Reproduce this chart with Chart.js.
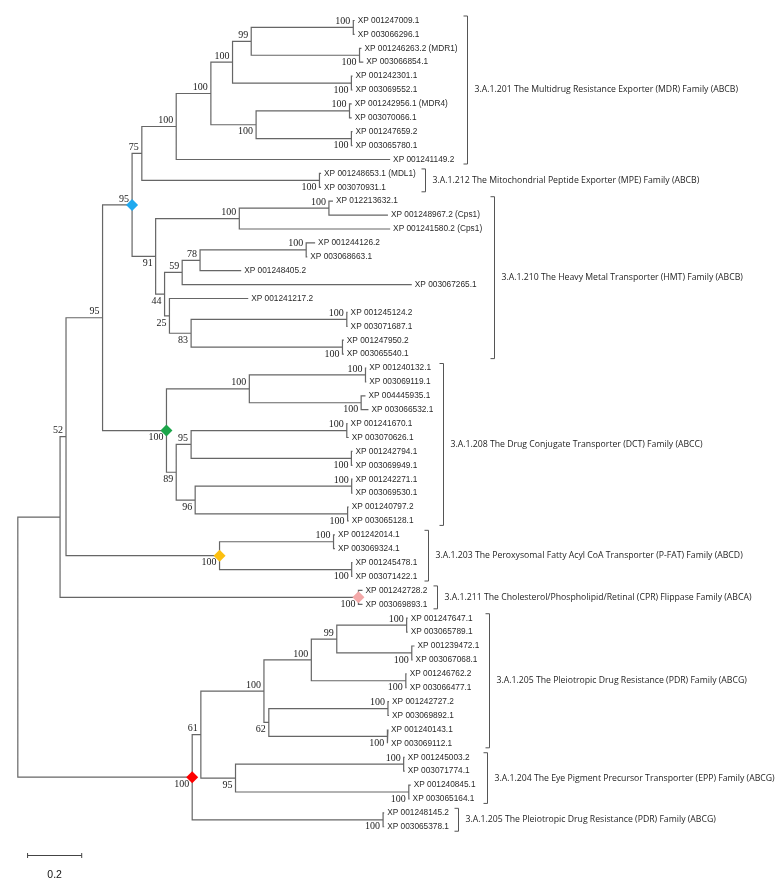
<!DOCTYPE html>
<html>
<head>
<meta charset="utf-8">
<script src="https://cdn.jsdelivr.net/npm/chart.js@4.4.1/dist/chart.umd.min.js"></script>
<style>
html, body { margin: 0; padding: 0; background: #fff; }
#wrap { position: relative; width: 780px; height: 892px; }
</style>
</head>
<body>
<div id="wrap"><canvas id="tree"></canvas></div>
<script>
// tips, top to bottom
const leafNames = [
  'XP 001247009.1', 'XP 003066296.1', 'XP 001246263.2 (MDR1)', 'XP 003066854.1',
  'XP 001242301.1', 'XP 003069552.1', 'XP 001242956.1 (MDR4)', 'XP 003070066.1',
  'XP 001247659.2', 'XP 003065780.1', 'XP 001241149.2',
  'XP 001248653.1 (MDL1)', 'XP 003070931.1',
  'XP 012213632.1', 'XP 001248967.2 (Cps1)', 'XP 001241580.2 (Cps1)', 'XP 001244126.2',
  'XP 003068663.1', 'XP 001248405.2', 'XP 003067265.1', 'XP 001241217.2',
  'XP 001245124.2', 'XP 003071687.1', 'XP 001247950.2', 'XP 003065540.1',
  'XP 001240132.1', 'XP 003069119.1', 'XP 004445935.1', 'XP 003066532.1',
  'XP 001241670.1', 'XP 003070626.1', 'XP 001242794.1', 'XP 003069949.1',
  'XP 001242271.1', 'XP 003069530.1', 'XP 001240797.2', 'XP 003065128.1',
  'XP 001242014.1', 'XP 003069324.1', 'XP 001245478.1', 'XP 003071422.1',
  'XP 001242728.2', 'XP 003069893.1',
  'XP 001247647.1', 'XP 003065789.1', 'XP 001239472.1', 'XP 003067068.1',
  'XP 001246762.2', 'XP 003066477.1', 'XP 001242727.2', 'XP 003069892.1',
  'XP 001240143.1', 'XP 003069112.1',
  'XP 001245003.2', 'XP 003071774.1', 'XP 001240845.1', 'XP 003065164.1',
  'XP 001248145.2', 'XP 003065378.1'
];
// distance of each tip from the root
const leafDepth = [
  1.244, 1.244, 1.269, 1.276, 1.236, 1.236, 1.233, 1.233, 1.236, 1.236, 1.375,
  1.120, 1.120,
  1.164, 1.367, 1.375, 1.098, 1.069, 0.825, 1.455, 0.851, 1.218, 1.218, 1.204, 1.204,
  1.287, 1.287, 1.284, 1.295, 1.218, 1.222, 1.236, 1.236, 1.236, 1.236, 1.222, 1.222,
  1.171, 1.171, 1.236, 1.236,
  1.273, 1.273,
  1.440, 1.440, 1.465, 1.458, 1.436, 1.436, 1.371, 1.371, 1.367, 1.367,
  1.429, 1.429, 1.451, 1.447,
  1.353, 1.353
];

// internal nodes: name, depth, children (numbers are tips), bootstrap
const nodeNames = [
  'pA', 'pB', 'pC', 'pD', 'pE', 'pF', 'pG', 'pH', 'pI', 'pJ', 'pK', 'pL', 'pM', 'pN',
  'pO', 'pP', 'pQ', 'pR', 'pS', 'pT', 'pU', 'pV', 'pW', 'pX', 'pY', 'pZ', 'pAA',
  'mdr99', 'mdr100a', 'mdr100b', 'mdr100c', 'mdr100d', 'mdr75',
  'hmt100', 'hmt78', 'hmt59', 'hmt83', 'hmt25', 'hmt44', 'hmt91', 'abcb95',
  'dct100', 'dct95', 'dct96', 'dct89', 'abcc100', 'upper95', 'abcd100', 'upper52', 'upper',
  'pdr99', 'pdr100a', 'pdr62', 'pdr100b', 'epp95', 'abcg61', 'abcg100', 'root'
];
const nodeDepth = [
  1.239, 1.262, 1.232, 1.225, 1.232, 1.114, 1.149, 1.065, 1.215, 1.199, 1.284, 1.268, 1.215, 1.232,
  1.233, 1.218, 1.166, 1.233, 1.258, 1.436, 1.455, 1.433, 1.367, 1.364, 1.425, 1.444, 1.349,
  0.862, 0.793, 0.880, 0.713, 0.585, 0.458,
  0.818, 0.673, 0.607, 0.640, 0.560, 0.542, 0.509, 0.422,
  0.855, 0.640, 0.655, 0.585, 0.549, 0.313, 0.745, 0.178, 0.156,
  1.178, 1.084, 0.927, 0.909, 0.804, 0.676, 0.644, 0
];
const nodeKids = [
  [0, 1], [2, 3], [4, 5], [6, 7], [8, 9], [11, 12], [13, 14], [16, 17], [21, 22], [23, 24],
  [25, 26], [27, 28], [29, 30], [31, 32], [33, 34], [35, 36], [37, 38], [39, 40], [41, 42],
  [43, 44], [45, 46], [47, 48], [49, 50], [51, 52], [53, 54], [55, 56], [57, 58],
  ['pA', 'pB'], ['mdr99', 'pC'], ['pD', 'pE'], ['mdr100a', 'mdr100b'], ['mdr100c', 10], ['mdr100d', 'pF'],
  ['pG', 15], ['pH', 18], ['hmt78', 19], ['pI', 'pJ'], [20, 'hmt83'], ['hmt59', 'hmt25'],
  ['hmt100', 'hmt44'], ['mdr75', 'hmt91'],
  ['pK', 'pL'], ['pM', 'pN'], ['pO', 'pP'], ['dct95', 'dct96'], ['dct100', 'dct89'],
  ['abcb95', 'abcc100'], ['pQ', 'pR'], ['upper95', 'abcd100'], ['upper52', 'pS'],
  ['pT', 'pU'], ['pdr99', 'pV'], ['pW', 'pX'], ['pdr100a', 'pdr62'], ['pY', 'pZ'],
  ['pdr100b', 'epp95'], ['abcg61', 'pAA'], ['upper', 'abcg100']
];
const nodeSupport = [
  100, 100, 100, 100, 100, 100, 100, 100, 100, 100, 100, 100, 100, 100,
  100, 100, 100, 100, 100, 100, 100, 100, 100, 100, 100, 100, 100,
  99, 100, 100, 100, 100, 75,
  100, 78, 59, 83, 25, 44, 91, 95,
  100, 95, 96, 89, 100, 95, 100, 52, null,
  99, 100, 62, 100, 95, 61, 100, null
];
// bootstrap values written under the branch instead of above it
const supportBelow = ['pB', 'pC', 'pE', 'pF', 'pJ', 'pL', 'pN', 'pP', 'pR', 'pS', 'pU', 'pV',
  'pX', 'pZ', 'pAA', 'mdr100b', 'hmt83', 'hmt25', 'hmt44', 'hmt91', 'dct96', 'dct89',
  'abcc100', 'abcd100', 'pdr62', 'epp95', 'abcg100'];

const familyNames = [
  '3.A.1.201 The Multidrug Resistance Exporter (MDR) Family (ABCB)',
  '3.A.1.212 The Mitochondrial Peptide Exporter (MPE) Family (ABCB)',
  '3.A.1.210 The Heavy Metal Transporter (HMT) Family (ABCB)',
  '3.A.1.208 The Drug Conjugate Transporter (DCT) Family (ABCC)',
  '3.A.1.203 The Peroxysomal Fatty Acyl CoA Transporter (P-FAT) Family (ABCD)',
  '3.A.1.211 The Cholesterol/Phospholipid/Retinal (CPR) Flippase Family (ABCA)',
  '3.A.1.205 The Pleiotropic Drug Resistance (PDR) Family (ABCG)',
  '3.A.1.204 The Eye Pigment Precursor Transporter (EPP) Family (ABCG)',
  '3.A.1.205 The Pleiotropic Drug Resistance (PDR) Family (ABCG)'
];
const familyFirst = [0, 11, 13, 25, 37, 41, 43, 53, 57];
const familyLast = [10, 12, 24, 36, 40, 42, 52, 56, 58];
const familyBracketX = [467, 425, 494, 443, 428, 437, 489, 487, 458];

const markedNodes = ['abcb95', 'abcc100', 'abcd100', 'pS', 'abcg100'];
const markColors = ['#1fa9ef', '#1ca54a', '#fcbf0f', '#f3a8a8', '#fe0000'];

const scaleBarLength = 0.2;

// ---- layout helpers
const depthOf = {}, kidsOf = {}, supOf = {};
nodeNames.forEach((n, i) => { depthOf[n] = nodeDepth[i]; kidsOf[n] = nodeKids[i]; supOf[n] = nodeSupport[i]; });

function pos(ref) {
  if (typeof ref === 'number') return { x: leafDepth[ref], y: ref };
  const k = kidsOf[ref];
  const a = pos(k[0]), b = pos(k[k.length - 1]);
  return { x: depthOf[ref], y: (a.y + b.y) / 2 };
}

const branchPts = [];
nodeNames.forEach(n => {
  const p = pos(n);
  const ks = kidsOf[n].map(pos);
  const a = ks[0], b = ks[ks.length - 1];
  branchPts.push({ x: a.x, y: a.y }, { x: p.x, y: a.y }, { x: p.x, y: b.y }, { x: b.x, y: b.y }, { x: null, y: null });
});

const treeText = {
  id: 'treeText',
  afterDatasetsDraw(chart) {
    const ctx = chart.ctx, xs = chart.scales.x, ys = chart.scales.y;
    ctx.save();
    // tip names
    ctx.font = '8.3px "Liberation Sans", Arial, sans-serif';
    ctx.fillStyle = '#2a2a2a';
    ctx.textAlign = 'left';
    ctx.textBaseline = 'middle';
    leafNames.forEach((t, i) => ctx.fillText(t, xs.getPixelForValue(leafDepth[i]) + 3, ys.getPixelForValue(i)));
    // bootstrap
    ctx.font = '10px "Liberation Serif", "Times New Roman", serif';
    ctx.fillStyle = '#222';
    ctx.textAlign = 'right';
    nodeNames.forEach(n => {
      if (supOf[n] == null) return;
      const p = pos(n);
      const px = xs.getPixelForValue(p.x) - 3, py = ys.getPixelForValue(p.y);
      if (supportBelow.includes(n)) { ctx.textBaseline = 'top'; ctx.fillText(String(supOf[n]), px, py + 2); }
      else { ctx.textBaseline = 'bottom'; ctx.fillText(String(supOf[n]), px, py - 1); }
    });
    // family brackets
    ctx.strokeStyle = '#555';
    ctx.lineWidth = 1;
    ctx.font = '8.7px "Open Sans", "Noto Sans", sans-serif';
    ctx.fillStyle = '#1e1e1e';
    ctx.textAlign = 'left';
    ctx.textBaseline = 'middle';
    familyNames.forEach((t, i) => {
      const bx = familyBracketX[i] + 0.5;
      const y0 = ys.getPixelForValue(familyFirst[i]) - 4.5;
      const y1 = ys.getPixelForValue(familyLast[i]) + 4.5;
      ctx.beginPath();
      ctx.moveTo(bx - 4, y0); ctx.lineTo(bx, y0); ctx.lineTo(bx, y1); ctx.lineTo(bx - 4, y1);
      ctx.stroke();
      ctx.fillText(t, bx + 7, (y0 + y1) / 2);
    });
    // scale bar
    const sx0 = xs.getPixelForValue(0.036), sx1 = xs.getPixelForValue(0.036 + scaleBarLength);
    const sy = Math.round(ys.getPixelForValue(60.0)) + 0.5;
    ctx.strokeStyle = '#444';
    ctx.beginPath();
    ctx.moveTo(sx0, sy); ctx.lineTo(sx1, sy);
    ctx.moveTo(sx0, sy - 2.5); ctx.lineTo(sx0, sy + 2.5);
    ctx.moveTo(sx1, sy - 2.5); ctx.lineTo(sx1, sy + 2.5);
    ctx.stroke();
    ctx.font = '10.5px "Liberation Sans", Arial, sans-serif';
    ctx.fillStyle = '#111';
    ctx.textAlign = 'center';
    ctx.textBaseline = 'middle';
    ctx.fillText(String(scaleBarLength), (sx0 + sx1) / 2, sy + 20);
    ctx.restore();
  }
};

new Chart(document.getElementById('tree'), {
  type: 'scatter',
  data: {
    datasets: [
      {
        data: markedNodes.map(pos),
        pointStyle: 'rectRot',
        pointRadius: 6,
        backgroundColor: markColors,
        borderWidth: 0,
        showLine: false
      },
      {
        data: branchPts,
        showLine: true,
        spanGaps: false,
        pointRadius: 0,
        borderColor: '#666',
        borderWidth: 1.2,
        borderJoinStyle: 'miter',
        borderCapStyle: 'butt',
        tension: 0
      }
    ]
  },
  options: {
    responsive: true,
    maintainAspectRatio: false,
    animation: false,
    events: [],
    layout: { padding: 0 },
    plugins: { legend: { display: false }, tooltip: { enabled: false } },
    scales: {
      x: { type: 'linear', display: false, min: -12 / 275, max: 768 / 275 },
      y: { type: 'linear', display: false, reverse: true, min: -14.7 / 14.09, max: (892 - 14.7) / 14.09 }
    }
  },
  plugins: [treeText]
});
</script>
</body>
</html>
